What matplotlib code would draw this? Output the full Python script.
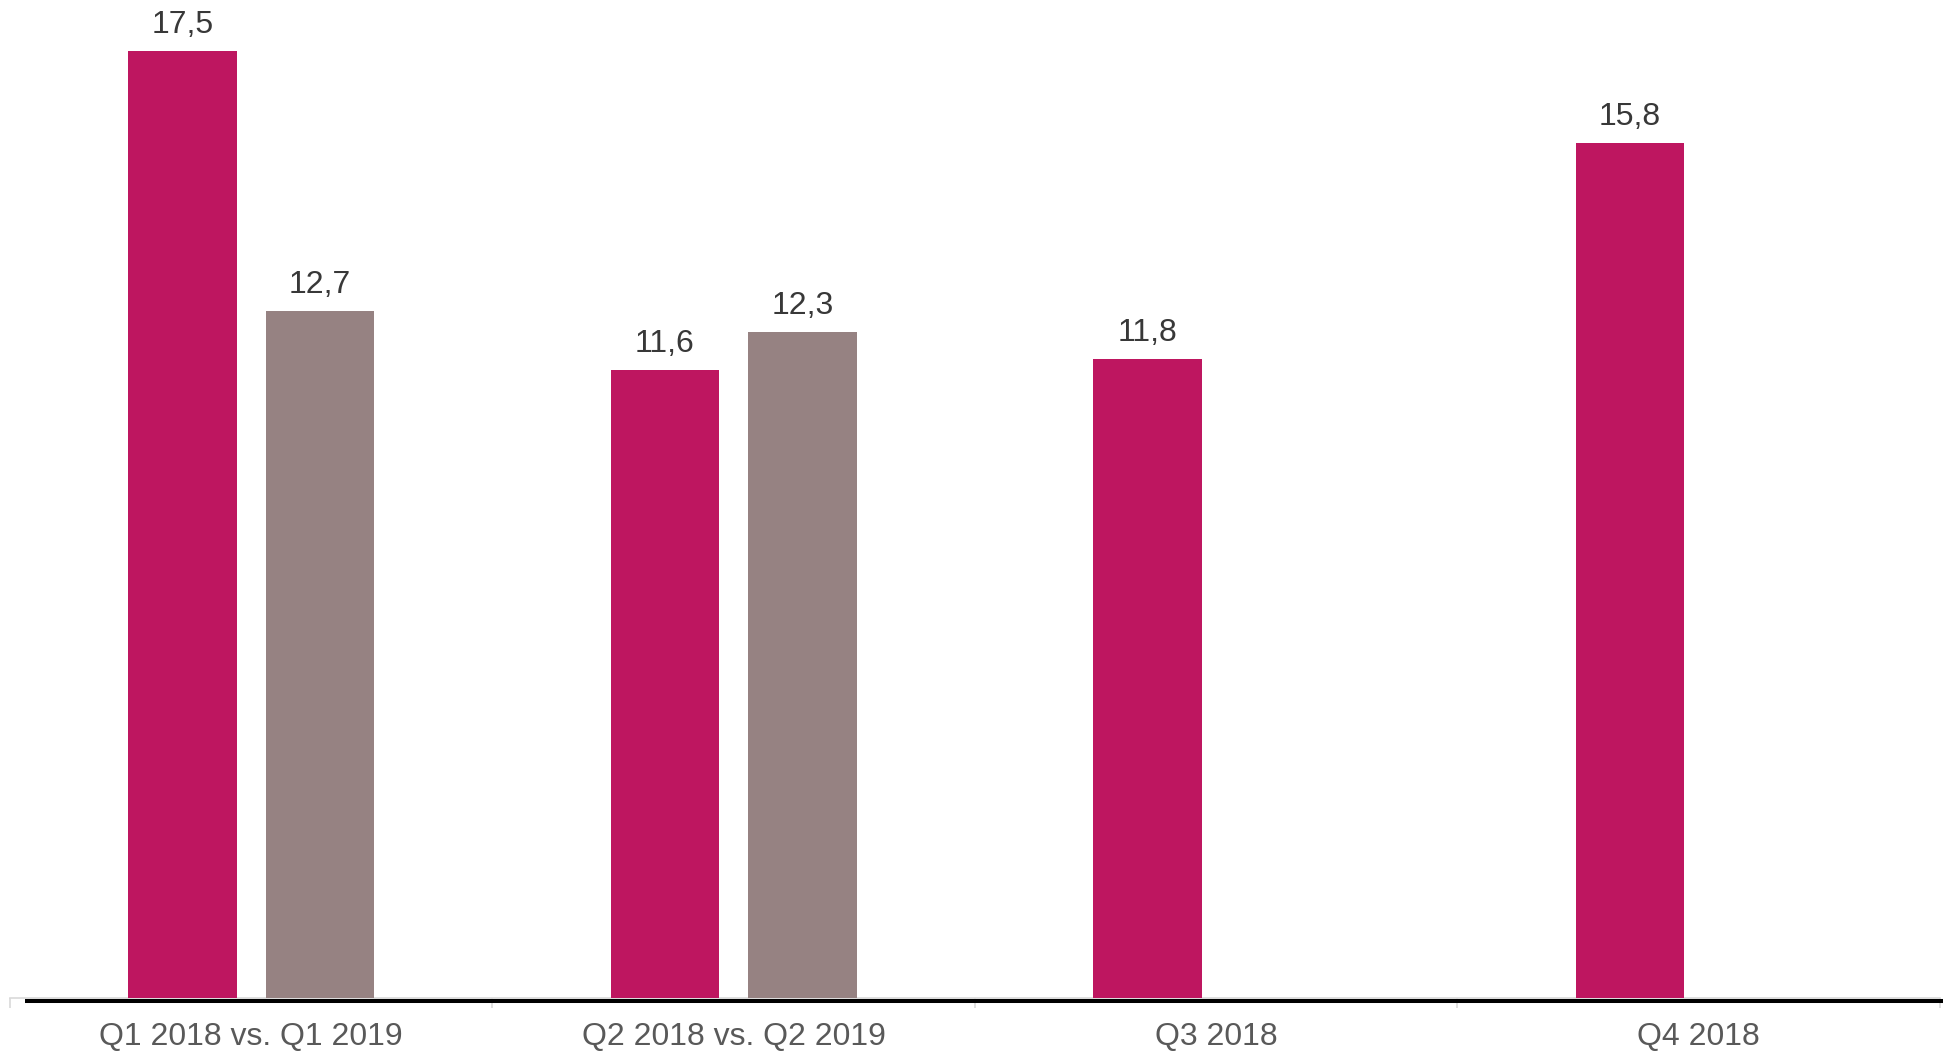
import numpy as np
import matplotlib.pyplot as plt
import matplotlib.transforms as mtrans

plt.rcParams['font.family'] = ['Liberation Sans', 'DejaVu Sans']

#%% data
categories = ['Q1 2018 vs. Q1 2019', 'Q2 2018 vs. Q2 2019', 'Q3 2018', 'Q4 2018']
vals_2018 = [17.5, 11.6, 11.8, 15.8]
vals_2019 = [12.7, 12.3, None, None]

magenta = '#BE1660'
grey = '#968282'

#%% plot
fig = plt.figure(figsize=(19.53, 10.51), dpi=100)
ax = fig.add_axes([10/1953, 53/1051, 1930/1953, 998/1051])

x = np.arange(len(categories))
w = 0.224
off = 0.1425

def fmt(v):
    return ('%.1f' % v).replace('.', ',')

for i, v in enumerate(vals_2018):
    ax.bar(x[i]-off, v, w, color=magenta, zorder=3)
    ax.annotate(fmt(v), (x[i]-off, v), xytext=(0, 8), textcoords='offset points',
                ha='center', va='bottom', fontsize=23, color='#383838')
for i, v in enumerate(vals_2019):
    if v is None:
        continue
    ax.bar(x[i]+off, v, w, color=grey, zorder=3)
    ax.annotate(fmt(v), (x[i]+off, v), xytext=(0, 8), textcoords='offset points',
                ha='center', va='bottom', fontsize=23, color='#383838')

ax.set_xlim(-0.5, len(categories)-0.5)
ax.set_ylim(0, 18.44)

# black baseline just under the grey axis line
shift = mtrans.ScaledTranslation(0, -3.3/100, fig.dpi_scale_trans)
ax.plot([15/1930, 1933/1930], [0, 0], color='black', lw=2.9, zorder=4,
        clip_on=False, transform=ax.transAxes + shift, solid_capstyle='butt')

for s in ['top', 'right', 'left']:
    ax.spines[s].set_visible(False)
ax.spines['bottom'].set_color('#d9d9d9')
ax.spines['bottom'].set_linewidth(1.2)
ax.set_yticks([])

ax.set_xticks(x)
ax.set_xticklabels(categories, fontsize=23, color='#595959')
ax.tick_params(axis='x', which='major', length=0, pad=17.5)
ax.set_xticks(np.arange(-0.5, len(categories)), minor=True)
ax.tick_params(axis='x', which='minor', length=7, color='#d9d9d9', width=1.2)

fig.savefig('out.png', dpi=100)
